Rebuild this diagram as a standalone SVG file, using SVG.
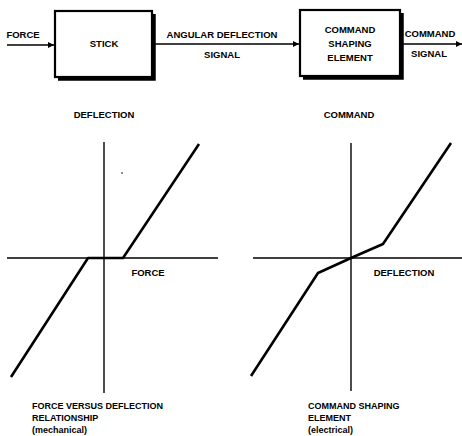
<svg xmlns="http://www.w3.org/2000/svg" width="462" height="436" viewBox="0 0 462 436">
<defs>
<style>
text{font-family:"Liberation Sans",Arial,sans-serif;font-weight:bold;font-size:9.5px;fill:#000;text-anchor:middle}
.sm{font-size:9px}
.l{text-anchor:start}
.box{fill:#fff;stroke:#000;stroke-width:2.2}
.sh{fill:none;stroke:#000;stroke-width:3.5}
.ln{fill:none;stroke:#000;stroke-width:1.6}
.ax{fill:none;stroke:#000;stroke-width:1.4}
.cv{fill:none;stroke:#000;stroke-width:2.6;stroke-linejoin:round}
</style>
<marker id="ah" viewBox="0 0 10 10" refX="10" refY="5" markerWidth="10" markerHeight="6" markerUnits="userSpaceOnUse" orient="auto">
<path d="M0,0 L10,5 L0,10 z" fill="#000"/>
</marker>
</defs>
<g id="connectors">
<line class="ln" x1="7" y1="45" x2="54" y2="45" marker-end="url(#ah)"/>
<line class="ln" x1="155" y1="44" x2="299" y2="44" marker-end="url(#ah)"/>
<line class="ln" x1="403" y1="44" x2="462" y2="44" marker-end="url(#ah)"/>
</g>
<g id="stick">
<rect class="box" x="55" y="11" width="97" height="66"/>
<polyline class="sh" points="58,79 154,79 154,14"/>
<text x="104" y="47">STICK</text>
</g>
<g id="command-shaping">
<rect class="box" x="300" y="10" width="100" height="66"/>
<polyline class="sh" points="303,78 402,78 402,13"/>
<text x="350" y="33">COMMAND</text>
<text x="350" y="47">SHAPING</text>
<text x="350" y="61">ELEMENT</text>
</g>
<g id="labels">
<text x="23" y="38">FORCE</text>
<text x="222" y="38">ANGULAR DEFLECTION</text>
<text x="222" y="58">SIGNAL</text>
<text x="430" y="37">COMMAND</text>
<text x="429" y="57">SIGNAL</text>
<text x="104" y="118">DEFLECTION</text>
<text x="349" y="118">COMMAND</text>
</g>
<g id="graph-force">
<line class="ax" x1="104" y1="142" x2="104" y2="393"/>
<line class="ax" x1="7" y1="258" x2="218" y2="258"/>
<polyline class="cv" points="199,144 123,258 88,258 11,377"/>
<circle cx="122" cy="173" r="0.8" fill="#000"/>
<text x="148" y="276">FORCE</text>
<text class="l sm" x="32" y="409">FORCE VERSUS DEFLECTION</text>
<text class="l sm" x="32" y="421">RELATIONSHIP</text>
<text class="l sm" x="32" y="433">(mechanical)</text>
</g>
<g id="graph-command">
<line class="ax" x1="351" y1="143" x2="351" y2="391"/>
<line class="ax" x1="253" y1="258" x2="462" y2="258"/>
<polyline class="cv" points="451,143 383,244 351,258 318,273 251,376"/>
<text x="404" y="276">DEFLECTION</text>
<text class="l sm" x="308" y="409">COMMAND SHAPING</text>
<text class="l sm" x="308" y="421">ELEMENT</text>
<text class="l sm" x="308" y="433">(electrical)</text>
</g>
</svg>
